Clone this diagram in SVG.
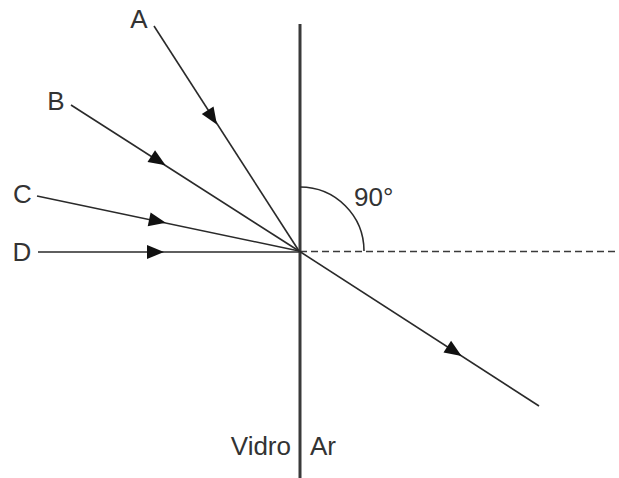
<svg xmlns="http://www.w3.org/2000/svg" width="619" height="478" viewBox="0 0 619 478">
<style>
.ray{stroke:#2a2a2a;stroke-width:1.6;fill:none}
.axis{stroke:#3a3a3a;stroke-width:3;fill:none}
.dash{stroke:#3a3a3a;stroke-width:1.5;stroke-dasharray:7 4;fill:none}
.lbl{font-family:"Liberation Sans",Arial,sans-serif;font-size:26px;fill:#333}
.head{fill:#111}
</style>
<defs>
<polygon id="tri" points="9,0 -8,-7 -8,7"/>
</defs>
<rect width="619" height="478" fill="#fff"/>
<g id="boundary">
<line class="axis" x1="300" y1="24" x2="300" y2="478"/>
<text class="lbl" x="291" y="455" text-anchor="end">Vidro</text>
<text class="lbl" x="310" y="455">Ar</text>
</g>
<g id="normal">
<line class="dash" x1="300" y1="251.5" x2="619" y2="251.5"/>
<path class="ray" d="M300,187 A64,64 0 0 1 364,251"/>
<text class="lbl" x="354" y="206">90°</text>
</g>
<g id="connectors">
<line class="ray" x1="154" y1="26" x2="299" y2="251"/>
<line class="ray" x1="71" y1="105" x2="299" y2="251"/>
<line class="ray" x1="37" y1="196" x2="299" y2="251"/>
<line class="ray" x1="38" y1="252" x2="299" y2="252"/>
<line class="ray" x1="299" y1="251" x2="539" y2="406"/>
<use href="#tri" class="head" transform="translate(212,117) rotate(57.2)"/>
<use href="#tri" class="head" transform="translate(158,160.5) rotate(32.6)"/>
<use href="#tri" class="head" transform="translate(157,221) rotate(11.9)"/>
<use href="#tri" class="head" transform="translate(155,252)"/>
<use href="#tri" class="head" transform="translate(454,351) rotate(32.9)"/>
</g>
<g id="A"><text class="lbl" x="139" y="28" text-anchor="middle">A</text></g>
<g id="B"><text class="lbl" x="56" y="110" text-anchor="middle">B</text></g>
<g id="C"><text class="lbl" x="22.5" y="203" text-anchor="middle">C</text></g>
<g id="D"><text class="lbl" x="22" y="261" text-anchor="middle">D</text></g>
</svg>
